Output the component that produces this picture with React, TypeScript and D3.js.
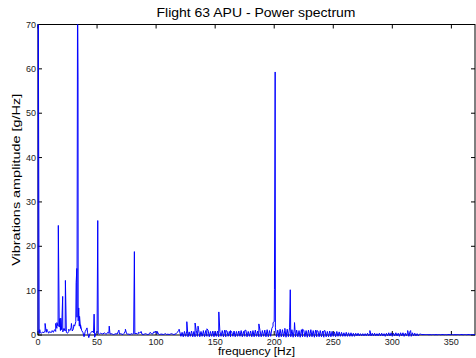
import React from 'react';
import * as d3 from 'd3';

const W = 476;
const H = 358;
const margin = { left: 38, right: 1, top: 24.5, bottom: 23 };

const xTicks = [0, 50, 100, 150, 200, 250, 300, 350];
const yTicks = [0, 10, 20, 30, 40, 50, 60, 70];

// noise floor, one value per Hz starting at 0 Hz
const floorStep = 1;
const floorAmps = [
  0.6, 0.3, 0.5, 0.4, 0.7, 0.5, 0.9, 0.6, 1.0, 0.4,
  0.8, 0.5, 0.9, 0.6, 1.2, 0.8, 1.5, 2.0, 1.8, 1.0,
  1.2, 0.7, 1.5, 0.9, 0.6, 0.4, 0.8, 1.0, 1.6, 0.9,
  1.4, 2.0, 3.0, 4.0, 3.2, 2.0, 1.5, 1.0, 0.6, -0.4,
  0.8, 1.3, 0.5, -0.6, 0.3, 0.6, 0.9, 0.5, -0.5, 0.4,
  0.6, 0.3, 0.2, 0.4, 0.3, 0.2, 0.5, 0.3, 0.2, 0.6,
  0.4, 0.2, 0.3, 0.2, 0.1, 0.2, 0.3, 0.2, 0.8, 0.2,
  0.3, 0.2, 0.1, 0.4, 0.9, 0.3, 0.2, 0.2, 0.1, 0.3,
  0.2, 0.3, 0.2, 0.4, 0.2, 0.3, 0.5, 0.6, 0.2, 0.1,
  0.2, 0.3, 0.2, 0.1, 0.2, 0.4, 0.3, 0.2, 0.7, 0.6,
  0.5, 0.3, 0.2, 0.1, 0.2, 0.2, 0.1, 0.2, 0.3, 0.1,
  0.2, 0.1, 0.2, 0.3, 0.2, 0.1, 0.2, 0.3, 0.6, 1.0,
  0.7, -0.3, 0.6, -0.4, 0.8, -0.3, 0.9, -0.4, 0.7, -0.3,
  0.9, -0.4, 0.8, -0.4, 1.0, -0.3, 1.2, -0.4, 0.8, -0.3,
  0.9, -0.4, 1.0, -0.3, 1.1, -0.4, 0.8, -0.3, 0.9, -0.4,
  0.8, -0.3, 0.9, -0.4, 0.8, -0.3, 1.0, -0.4, 1.1, -0.4,
  0.9, -0.3, 0.8, -0.4, 0.7, -0.3, 0.9, -0.4, 0.8, -0.3,
  0.9, -0.3, 1.0, -0.4, 0.8, -0.3, 1.1, -0.4, 0.8, -0.3,
  0.9, -0.4, 1.0, -0.4, 1.1, -0.3, 0.9, -0.4, 1.0, -0.4,
  1.0, -0.3, 1.1, -0.4, 1.2, -0.4, 1.0, -0.3, 1.5, 2.0,
  3.0, 1.6, -0.4, 1.1, -0.5, 1.3, -0.4, 1.2, -0.4, 1.1,
  -0.5, 1.3, -0.4, 1.6, -0.4, 1.2, -0.5, 1.3, -0.4, 1.1,
  -0.4, 1.0, -0.5, 1.2, -0.4, 1.1, -0.4, 1.0, -0.5, 1.1,
  -0.4, 1.2, -0.4, 1.0, -0.5, 1.1, -0.4, 0.9, -0.4, 1.0,
  -0.4, 0.9, -0.5, 1.0, -0.4, 0.8, -0.4, 0.9, -0.4, 0.8,
  -0.3, 0.7, -0.4, 0.8, -0.3, 0.7, -0.3, 0.6, -0.3, 0.5,
  -0.3, 0.6, -0.3, 0.5, -0.3, 0.5, -0.3, 0.4, -0.3, 0.4,
  -0.2, 0.4, -0.2, 0.3, -0.2, 0.3, -0.2, 0.3, -0.2, 0.4,
  -0.2, 0.3, -0.2, 0.4, -0.2, 0.4, -0.2, 0.3, -0.2, 0.4,
  -0.2, 0.4, -0.2, 0.3, -0.3, 0.4, -0.2, 0.5, -0.2, 0.5,
  -0.3, 0.4, -0.2, 0.5, -0.2, 0.4, -0.3, 0.5, -0.2, 0.5,
  -0.3, 0.4, -0.2, 0.6, -0.3, 0.8, -0.3, 0.5, -0.2, 0.4,
  -0.2, 0.3, -0.2, 0.2, 0.2, 0.1, 0.1, 0.1, 0.1, 0.1,
  0.1, 0.05, 0.1, 0.05, 0.1, 0.1, 0.05, 0.1, 0.05, 0.1,
  0.1, 0.05, 0.1, 0.1, 0.05, 0.1, 0.05, 0.1, 0.1, 0.05,
  0.1, 0.1, 0.05, 0.1, 0.05, 0.1, 0.1, 0.05, 0.1, 0.1,
  0.05, 0.1, 0.1, 0.05, 0.1, 0.1, 0.05, 0.1, 0.1, 0.05,
  0.1,
];

// sharp spectral lines
const peakFreqs = [
  0.2, 1.5, 6, 7.5, 12, 15, 16, 17.2, 18.3, 19.3, 20.9, 23.2, 26, 28.3, 30.4,
  32.3, 32.9, 33.5, 33.9, 34.5, 35.2, 36, 41.5, 47.5, 50.6, 60.3, 68.5, 74,
  81.6, 85, 87.3, 95, 99.5, 101, 119.5, 126, 133, 135.5, 140, 143, 153.1, 159,
  163, 175, 187, 199, 200.2, 200.8, 205, 209, 213.6, 217.2, 224, 229, 236, 242,
  281, 313, 315.5,
];
const peakAmps = [
  80, 1.2, 2.6, 1.3, 1.0, 2.6, 2.8, 24.7, 3.7, 3.8, 8.7, 12.3, 1.3, 2.6, 2.3,
  11.8, 15, 80, 57.7, 6.1, 4.2, 2.3, 1.6, 4.7, 25.8, 2.0, 1.1, 1.3,
  18.8, 0.6, 0.8, 0.6, 0.9, 0.8, 1.3, 3.0, 2.7, 2.0, 1.0, 1.4, 5.2, 1.0,
  1.0, 1.0, 2.5, 2.8, 10.2, 59.3, 1.3, 1.5, 10.2, 2.8, 1.3, 1.1, 1.0, 0.9,
  1.0, 1.0, 1.0,
];

export default function App() {
  const x = d3.scaleLinear().domain([0, 370]).range([margin.left, W - margin.right]);
  const y = d3.scaleLinear().domain([0, 70]).range([H - margin.bottom, margin.top]);

  const pts: [number, number][] = floorAmps.map((a, i) => [i * floorStep, a]);
  peakFreqs.forEach((f, i) => pts.push([f, peakAmps[i]]));
  pts.sort((a, b) => a[0] - b[0]);

  const line = d3.line<[number, number]>()
    .x(d => x(d[0]))
    .y(d => y(d[1]));

  const x0 = margin.left;
  const x1 = W - margin.right;
  const y0 = H - margin.bottom;
  const y1 = margin.top;
  const font = 'Liberation Sans, Arial, sans-serif';

  return (
    <svg width={W} height={H} style={{ position: 'absolute', left: 0, top: 0, background: '#fff' }}
      fontFamily={font}>
      <defs>
        <clipPath id="plotclip">
          <rect x={x0 - 2} y={y1} width={x1 - x0 + 4} height={H - y1} />
        </clipPath>
      </defs>
      <rect x={0} y={0} width={W} height={H} fill="#fff" />
      <text x={256} y={17} textAnchor="middle" fontSize={13} fill="#000"
        textLength={199} lengthAdjust="spacingAndGlyphs">
        Flight 63 APU - Power spectrum
      </text>

      {/* axes box */}
      <rect x={x0} y={y1} width={x1 - x0} height={y0 - y1} fill="none" stroke="#000" strokeWidth={1} />
      {xTicks.map(t => (
        <g key={'x' + t}>
          <line x1={x(t)} x2={x(t)} y1={y0} y2={y0 - 4} stroke="#000" />
          <line x1={x(t)} x2={x(t)} y1={y1} y2={y1 + 4} stroke="#000" />
          <text x={x(t)} y={y0 + 10} textAnchor="middle" fontSize={9} fill="#222">{t}</text>
        </g>
      ))}
      {yTicks.map(t => (
        <g key={'y' + t}>
          <line x1={x0} x2={x0 + 4} y1={y(t)} y2={y(t)} stroke="#000" />
          <line x1={x1} x2={x1 - 4} y1={y(t)} y2={y(t)} stroke="#000" />
          <text x={x0 - 2} y={y(t) + 3.2} textAnchor="end" fontSize={9} fill="#222">{t}</text>
        </g>
      ))}

      <path d={line(pts) || ''} fill="none" stroke="#0000ff" strokeWidth={1} clipPath="url(#plotclip)" />

      <text x={256.5} y={355} textAnchor="middle" fontSize={10} fill="#000"
        textLength={77} lengthAdjust="spacingAndGlyphs">frequency [Hz]</text>
      <text transform={`translate(20,${(y0 + y1) / 2}) rotate(-90)`} textAnchor="middle" fontSize={10.5} fill="#000"
        textLength={172} lengthAdjust="spacingAndGlyphs">
        Vibrations amplitude [g/Hz]
      </text>
    </svg>
  );
}
